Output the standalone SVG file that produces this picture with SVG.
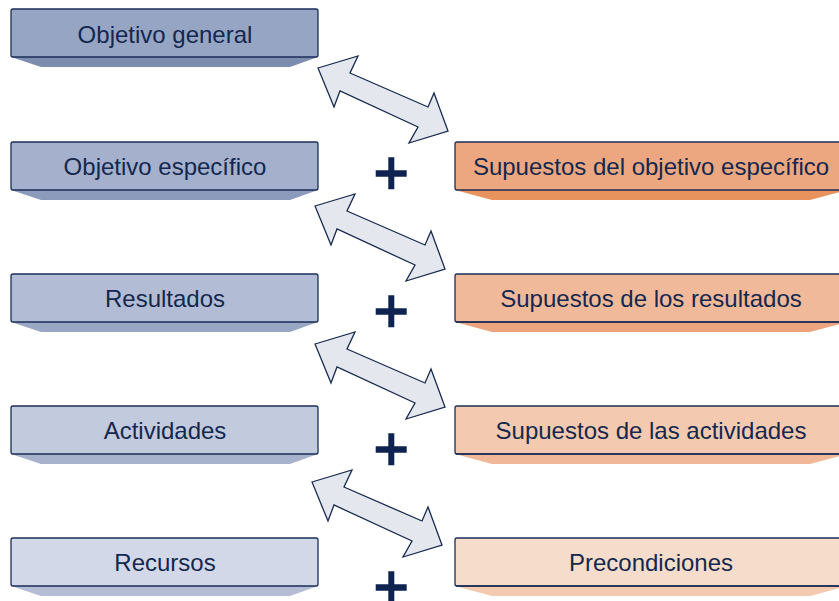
<svg xmlns="http://www.w3.org/2000/svg" width="839" height="601" viewBox="0 0 839 601">
<defs>
<style>
.box{stroke:#1B2E57;stroke-width:1.3}
.lbl{font-family:"Liberation Sans",Arial,sans-serif;font-size:24px;fill:#14284E;text-anchor:middle}
.arrow{fill:#E4E8EE;stroke:#17294F;stroke-width:1.3;stroke-linejoin:miter}
.plus{fill:#0E2350}
</style>
<path id="dbl" d="M318,68 L358,56 L350,73 L428,107 L434,93 L448,131 L409,143 L418,127 L340,91 L334,107 Z"/>
</defs>
<rect width="839" height="601" fill="#FFFFFF"/>

<g id="n-objetivo-general">
<polygon points="11,57 318,57 290,67 41,67" fill="#7D8DB0"/>
<rect class="box" x="11" y="9" width="307" height="48" rx="2" fill="#97A5C4"/>
<text class="lbl" x="165" y="43">Objetivo general</text>
</g>
<g id="n-objetivo-especifico">
<polygon points="11,190 318,190 290,200 41,200" fill="#8C9BBB"/>
<rect class="box" x="11" y="142" width="307" height="48" rx="2" fill="#A4B0CC"/>
<text class="lbl" x="165" y="175">Objetivo específico</text>
</g>
<g id="n-resultados">
<polygon points="11,322 318,322 290,332 41,332" fill="#9AA7C4"/>
<rect class="box" x="11" y="274" width="307" height="48" rx="2" fill="#B3BCD5"/>
<text class="lbl" x="165" y="307">Resultados</text>
</g>
<g id="n-actividades">
<polygon points="11,454 318,454 290,464 41,464" fill="#A7B2CC"/>
<rect class="box" x="11" y="406" width="307" height="48" rx="2" fill="#C2CADD"/>
<text class="lbl" x="165" y="439">Actividades</text>
</g>
<g id="n-recursos">
<polygon points="11,586 318,586 290,596 41,596" fill="#B4BDD5"/>
<rect class="box" x="11" y="538" width="307" height="48" rx="2" fill="#D2D8E7"/>
<text class="lbl" x="165" y="571">Recursos</text>
</g>

<g id="n-supuestos-objetivo">
<polygon points="455,190 847,190 810,200 492,200" fill="#E8925E"/>
<rect class="box" x="455" y="142" width="392" height="48" rx="2" fill="#ECA780"/>
<text class="lbl" x="651" y="175">Supuestos del objetivo específico</text>
</g>
<g id="n-supuestos-resultados">
<polygon points="455,322 847,322 810,332 492,332" fill="#ECA47E"/>
<rect class="box" x="455" y="274" width="392" height="48" rx="2" fill="#F0B999" stroke="#8E93A3"/>
<line x1="456" y1="322" x2="847" y2="322" stroke="#1B2E57" stroke-width="1.3"/>
<text class="lbl" x="651" y="307">Supuestos de los resultados</text>
</g>
<g id="n-supuestos-actividades">
<polygon points="455,454 847,454 810,464 492,464" fill="#F0B898"/>
<rect class="box" x="455" y="406" width="392" height="48" rx="2" fill="#F3CAB0" stroke="#8E93A3"/>
<line x1="456" y1="454" x2="847" y2="454" stroke="#1B2E57" stroke-width="1.3"/>
<text class="lbl" x="651" y="439">Supuestos de las actividades</text>
</g>
<g id="n-precondiciones">
<polygon points="455,586 847,586 810,596 492,596" fill="#F3C9AF"/>
<rect class="box" x="455" y="538" width="392" height="48" rx="2" fill="#F6DCCB" stroke="#8E93A3"/>
<line x1="456" y1="586" x2="847" y2="586" stroke="#1B2E57" stroke-width="1.3"/>
<text class="lbl" x="651" y="571">Precondiciones</text>
</g>

<g id="connectors">
<use href="#dbl" class="arrow"/>
<use href="#dbl" class="arrow" transform="translate(-3,138)"/>
<use href="#dbl" class="arrow" transform="translate(-3,276)"/>
<use href="#dbl" class="arrow" transform="translate(-6,414)"/>
</g>

<g id="plus-signs">
<path class="plus" d="M388.3,157.3h6v13h12.4v6.4h-12.4v12.6h-6v-12.6h-12.6v-6.4h12.6z"/>
<path class="plus" d="M388.3,295.3h6v13h12.4v6.4h-12.4v12.6h-6v-12.6h-12.6v-6.4h12.6z"/>
<path class="plus" d="M388.3,433.3h6v13h12.4v6.4h-12.4v12.6h-6v-12.6h-12.6v-6.4h12.6z"/>
<path class="plus" d="M388.3,571.3h6v13h12.4v6.4h-12.4v12.6h-6v-12.6h-12.6v-6.4h12.6z"/>
</g>
</svg>
